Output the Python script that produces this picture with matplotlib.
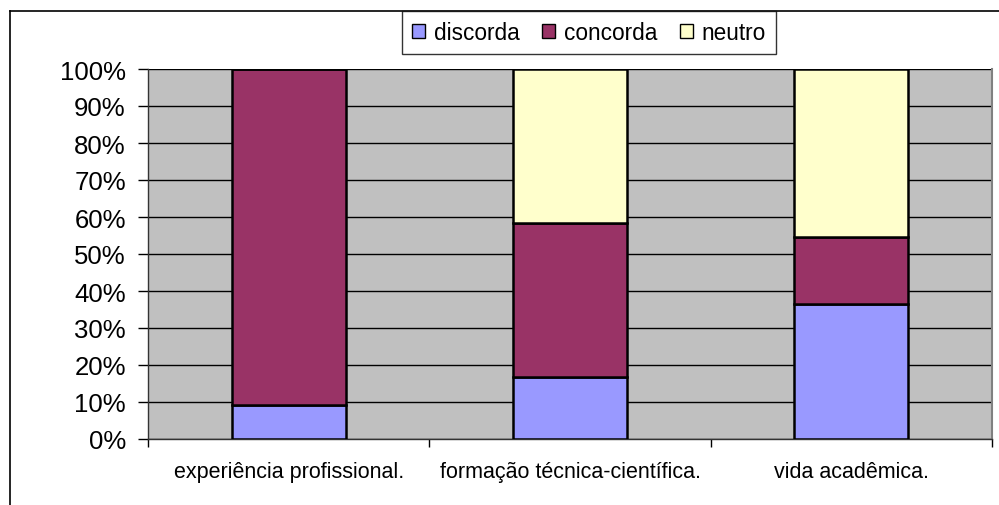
import matplotlib
matplotlib.use("Agg")
import matplotlib.pyplot as plt
from matplotlib.ticker import FixedLocator, FuncFormatter
import numpy as np

categories = ["experiência profissional.", "formação técnica-científica.", "vida acadêmica."]
series_names = ["discorda", "concorda", "neutro"]
discorda = [9.1, 16.7, 36.4]
concorda = [90.9, 41.6, 18.2]
neutro = [0.0, 41.7, 45.4]
colors = ["#9999FF", "#993366", "#FFFFCC"]
yticks = list(range(0, 101, 10))

plt.rcParams['font.family'] = ['Liberation Sans', 'DejaVu Sans']

fig = plt.figure(figsize=(9.99, 5.06), dpi=100)
ax = fig.add_axes([148/999, 1-440/506, 844/999, 370/506])
ax.set_facecolor("#C0C0C0")

x = np.arange(len(categories))
bottom = np.zeros(len(categories))
for name, vals, c in zip(series_names, [discorda, concorda, neutro], colors):
    v = np.array(vals)
    ax.bar(x, v, width=0.405, bottom=bottom, color=c, edgecolor="black",
           linewidth=1.8, label=name, zorder=3)
    bottom += v

ax.set_xlim(-0.5, 2.5)
ax.set_ylim(0, 100)
ax.set_yticks(yticks)
ax.yaxis.set_major_formatter(FuncFormatter(lambda v, p: f"{int(v)}%"))
for yv in yticks:
    ax.axhline(yv, color="black", linewidth=1.0, zorder=1)
ax.tick_params(axis='y', labelsize=18.5, length=7, width=1, direction='out', pad=9)

ax.set_xticks(x)
ax.set_xticklabels(categories, fontsize=15.5)
ax.tick_params(axis='x', which='major', length=0, pad=16)
ax.xaxis.set_minor_locator(FixedLocator([-0.5, 0.5, 1.5, 2.5]))
ax.tick_params(axis='x', which='minor', length=6, width=1, direction='out')

for s in ["left", "bottom"]:
    ax.spines[s].set_color("#333333")
    ax.spines[s].set_linewidth(1.0)
ax.spines["top"].set_visible(False)
ax.spines["right"].set_color("#808080")
ax.spines["right"].set_linewidth(1.5)

# figure border
fig.add_artist(plt.Line2D([10/999, 10/999], [0, 1-12/506], color="black", linewidth=1.2, transform=fig.transFigure))
fig.add_artist(plt.Line2D([10/999, 1], [1-12/506, 1-12/506], color="black", linewidth=1.2, transform=fig.transFigure))

leg = fig.legend(loc="upper left", bbox_to_anchor=(402/999, 1-58/506, (776-402)/999, 46/506),
                 mode="expand", ncol=3, fontsize=16.3, frameon=True, fancybox=False,
                 edgecolor="black", borderaxespad=0, handlelength=0.55, handleheight=0.55,
                 handletextpad=0.4, columnspacing=1.0, borderpad=0.45)
leg.get_frame().set_linewidth(1.0)
for h in leg.legend_handles:
    h.set_linewidth(1.0)

fig.savefig("out.png", dpi=100)
